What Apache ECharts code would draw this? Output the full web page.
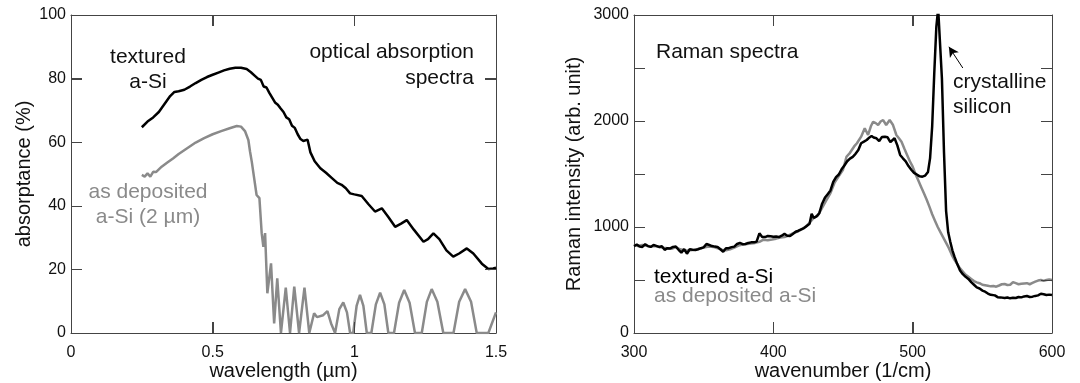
<!DOCTYPE html>
<html>
<head>
<meta charset="utf-8">
<script src="https://cdn.jsdelivr.net/npm/echarts@6/dist/echarts.min.js"></script>
<style>html,body{margin:0;padding:0;background:#fff;}#c{width:1080px;height:383px;}</style>
</head>
<body>
<div id="c"></div>
<script>
// ---- Left panel: optical absorption (absorptance %, vs wavelength µm) ----
const texturedWl  = [0.25,0.27,0.29,0.31,0.33,0.35,0.365,0.38,0.40,0.42,0.44,0.46,0.48,0.50,0.52,0.54,0.56,0.58,0.60,0.62,0.635,0.65,0.66,0.67,0.68,0.69,0.70,0.71,0.72,0.73,0.74,0.75,0.76,0.77,0.78,0.79,0.80,0.81,0.82,0.835,0.845,0.86,0.88,0.90,0.92,0.94,0.955,0.97,0.985,1.00,1.026,1.05,1.073,1.097,1.12,1.144,1.165,1.185,1.21,1.244,1.26,1.279,1.30,1.325,1.349,1.37,1.397,1.42,1.45,1.473,1.49,1.50];
const texturedAbs = [64.7,66.5,67.8,69.5,72,74.5,75.8,76,76.5,77.5,78.6,79.6,80.5,81.2,81.9,82.6,83.1,83.4,83.4,83,82,80.8,80,79.6,77.5,77.2,75.5,74,72.5,71.8,70.6,69.5,67.8,67.2,65.2,64.5,62.5,61,60.4,60.8,56.8,54,51.8,50.4,48.8,47.2,46.6,45.5,43.9,43.6,43.1,40.5,38.2,39.2,36.5,33.4,34.4,35.5,32.5,28.7,29.5,31.3,29.5,26,24,25,26.6,25,21.8,20.1,20.3,20.5];

const depositedWl  = [0.25,0.26,0.27,0.28,0.29,0.30,0.32,0.34,0.36,0.38,0.41,0.44,0.47,0.50,0.53,0.56,0.585,0.60,0.614,0.626,0.632,0.638,0.645,0.655,0.665,0.673,0.679,0.685,0.693,0.706,0.717,0.728,0.741,0.758,0.773,0.788,0.805,0.824,0.841,0.858,0.868,0.875,0.89,0.905,0.918,0.932,0.947,0.961,0.974,0.985,0.996,1.008,1.02,1.032,1.044,1.06,1.076,1.091,1.106,1.12,1.14,1.158,1.176,1.195,1.214,1.238,1.256,1.273,1.293,1.314,1.35,1.37,1.391,1.412,1.432,1.473,1.50];
const depositedAbs = [49.7,49.2,50.2,49.2,50.7,50.6,52.3,53.6,54.9,56.3,58.1,59.9,61.3,62.5,63.5,64.4,65.1,64.9,63.5,60.7,57,53.9,53.5,43.4,42.4,31.4,27.1,31.4,12.5,21.9,3,17.2,0,14.3,0,14.6,0,14.3,0,6.2,5.0,4.6,5.6,6.9,3,0,7.5,9.6,6.5,0,0,8.5,12,8.5,0,0,9,12.7,9,0,0,9.5,13.5,9.5,0,0,9.8,13.8,9.8,0,0,9.8,13.8,9.8,0,0,6.5];

// ---- Right panel: Raman spectra (intensity vs wavenumber 1/cm) ----
const ramanTexturedK = [300,302,304,306,308,310,312,314,316,318,320,322,324,326,328,330,332,334,336,338,340,342,344,346,348,350,352,354,356,358,360,362,364,366,368,370,372,374,376,378,380,382,384,386,388,390,392,394,396,398,400,402,404,406,408,410,412,414,416,418,420,422,424,426,427.5,429,431,433,435,437,439,441,443,445,447,449,451,453,455,457,459,461,463,465,467,469,470.5,472,474,476,478,480,482,484,485,487,489,491,493,495,497,499,501,503,505,507,509,511,512.5,514,515.5,517,518.3,519.5,521,522.5,524,525.5,527,528.5,530,532,534,536,538,540,542,544,546,548,550,552,554,556,557,559,561,563,566,568,570,572,574,576,578,580,582,584,586,588,590,592,594,596,598,600];
const ramanTexturedI = [820,835,815,812,838,820,812,830,822,812,818,785,800,798,812,815,785,758,792,748,790,785,782,790,800,808,840,830,820,815,812,790,767,800,800,810,815,840,850,838,840,850,855,855,862,940,905,905,915,912,908,910,905,918,935,918,915,935,955,965,978,990,1010,1030,1125,1085,1100,1130,1220,1275,1310,1345,1425,1470,1495,1545,1580,1620,1645,1662,1690,1726,1790,1805,1821,1845,1858,1845,1837,1811,1850,1852,1846,1800,1790,1837,1770,1680,1648,1620,1575,1540,1510,1495,1478,1475,1485,1520,1650,1950,2450,2890,3060,3060,2400,1700,1150,950,860,780,720,650,590,555,530,510,480,455,430,420,400,390,372,360,343,355,338,336,330,335,327,332,330,340,336,345,349,340,343,350,355,370,365,358,362,358];

const ramanDepositedK = [300,303,306,309,312,315,318,321,324,327,330,333,336,339,342,345,348,351,354,357,360,363,366,369,372,375,378,381,384,387,390,393,396,399,402,405,408,411,414,417,420,423,426,429,432,435,438,441,444,447,450,452.5,455,458,460,463,465.6,468,470,471.6,473.5,475.2,477,478.8,481,483.5,485.9,488.3,490,492,494,496,498,500,502,504,506,508,510,512,514,516,518,520,522,524,526,528,530,532,534,536,538,540,542,544,546,548,550,552,554,556,558,560,562,564,566,568,570,572,574,576,578,580,582,584,586,588,590,592,594,596,598,600];
const ramanDepositedI = [830,820,830,822,815,820,812,805,800,795,810,790,780,778,782,790,798,810,815,812,800,785,780,790,805,825,835,840,845,850,860,880,875,882,890,900,905,920,940,955,975,1000,1040,1085,1110,1180,1250,1320,1420,1480,1540,1663,1700,1760,1790,1852,1931,1868,1950,1993,1980,1962,1995,2009,1962,2009,1962,1868,1840,1805,1740,1680,1620,1570,1500,1440,1380,1320,1260,1192,1120,1060,1000,950,900,850,800,740,690,650,610,580,550,530,510,490,478,470,455,450,445,440,443,437,448,460,462,453,455,480,470,460,465,468,470,460,472,484,495,500,492,500,505,500];

// tick labels and tick-mark positions
const absLabels = [0, 20, 40, 60, 80, 100];
const absTickMarks = [20, 40, 60, 80];
const wlTickMarks = [0.5, 1];
const ramanLabels = [0, 1000, 2000, 3000];
const ramanTickMarks = [500, 1000, 1500, 2000, 2500];
const wnTickMarks = [400, 500];

const zip = (a, b) => a.map((v, i) => [v, b[i]]);

const FONT = "'Liberation Sans', Arial, Helvetica, sans-serif";
const AX = '#444';
const GRAY = '#8a8a8a';

function xAx(grid, min, max, interval, pos, name) {
  const labeled = pos === 'bottom';
  return {
    gridIndex: grid, type: 'value', min, max, interval, position: pos,
    axisLine: { show: true, onZero: false, lineStyle: { color: AX, width: 1 } },
    axisTick: { show: true, inside: true, length: 11, lineStyle: { color: AX, width: 1 } },
    axisLabel: { show: labeled, color: '#111', fontSize: 16, fontFamily: FONT, margin: 12 },
    splitLine: { show: false },
    name: labeled ? name : '', nameLocation: 'middle', nameGap: 28, nameMoveOverlap: false,
    nameTextStyle: { color: '#111', fontSize: 20, fontFamily: FONT }
  };
}
function yAx(grid, min, max, interval, pos, name, labelSet) {
  const labeled = pos === 'left';
  return {
    gridIndex: grid, type: 'value', min, max, interval, position: pos,
    axisLine: { show: true, onZero: false, lineStyle: { color: AX, width: 1 } },
    axisTick: { show: true, inside: true, length: 11, lineStyle: { color: AX, width: 1 } },
    axisLabel: { show: labeled, color: '#111', fontSize: 16, fontFamily: FONT, margin: 5,
      formatter: v => (labelSet.indexOf(v) >= 0 ? String(v) : '') },
    splitLine: { show: false },
    name: labeled ? name : '', nameLocation: 'middle', nameGap: grid === 0 ? 37 : 50, nameMoveOverlap: false,
    nameTextStyle: { color: '#111', fontSize: 20, fontFamily: FONT }
  };
}

function txt(x, y, text, color, align) {
  return { type: 'text', x, y, z: 10, style: { text, fill: color, font: '21px ' + FONT, textAlign: align || 'left', textVerticalAlign: 'middle' } };
}

const chart = echarts.init(document.getElementById('c'), null, { renderer: 'canvas' });
chart.setOption({
  animation: false,
  backgroundColor: '#fff',
  grid: [
    { left: 71, top: 15, width: 425, height: 318, outerBoundsMode: 'none', containLabel: false },
    { left: 634, top: 15, width: 418, height: 318, outerBoundsMode: 'none', containLabel: false }
  ],
  xAxis: [
    xAx(0, 0, 1.5, 0.5, 'bottom', 'wavelength (µm)'),
    xAx(0, 0, 1.5, 0.5, 'top', ''),
    xAx(1, 300, 600, 100, 'bottom', 'wavenumber (1/cm)'),
    xAx(1, 300, 600, 100, 'top', '')
  ],
  yAxis: [
    yAx(0, 0, 100, 20, 'left', 'absorptance (%)', absLabels),
    yAx(0, 0, 100, 20, 'right', '', absLabels),
    yAx(1, 0, 3000, 500, 'left', 'Raman intensity (arb. unit)', ramanLabels),
    yAx(1, 0, 3000, 500, 'right', '', ramanLabels)
  ],
  series: [
    { type: 'line', xAxisIndex: 0, yAxisIndex: 0, data: zip(depositedWl, depositedAbs), showSymbol: false, clip: true,
      lineStyle: { color: GRAY, width: 2.5 } },
    { type: 'line', xAxisIndex: 0, yAxisIndex: 0, data: zip(texturedWl, texturedAbs), showSymbol: false, clip: true,
      lineStyle: { color: '#000', width: 2.5 } },
    { type: 'line', xAxisIndex: 2, yAxisIndex: 2, data: zip(ramanDepositedK, ramanDepositedI), showSymbol: false, clip: true,
      lineStyle: { color: GRAY, width: 2.5 } },
    { type: 'line', xAxisIndex: 2, yAxisIndex: 2, data: zip(ramanTexturedK, ramanTexturedI), showSymbol: false, clip: true,
      lineStyle: { color: '#000', width: 2.5 },
      markLine: { silent: true, symbol: ['none', 'arrow'], symbolSize: [8, 10], label: { show: false },
        lineStyle: { color: '#000', width: 1, type: 'solid' },
        data: [[{ coord: [536, 2500] }, { coord: [526, 2700] }]] } }
  ]
});

// Inward tick marks on all four sides, positioned through the axes' own scales
const TL = 11;
const ticks = [];
function seg(x1, y1, x2, y2) {
  ticks.push({ type: 'line', z: 5, silent: true,
    shape: { x1, y1, x2, y2 }, style: { stroke: AX, lineWidth: 1 } });
}
function boxTicks(xBottom, yLeft, xMarks, yMarks, xMin, xMax, yMin, yMax) {
  const left = chart.convertToPixel({ xAxisIndex: xBottom }, xMin);
  const right = chart.convertToPixel({ xAxisIndex: xBottom }, xMax);
  const bottom = chart.convertToPixel({ yAxisIndex: yLeft }, yMin);
  const top = chart.convertToPixel({ yAxisIndex: yLeft }, yMax);
  xMarks.forEach(v => {
    const px = Math.round(chart.convertToPixel({ xAxisIndex: xBottom }, v)) + 0.5;
    seg(px, bottom, px, bottom - TL);
    seg(px, top, px, top + TL);
  });
  yMarks.forEach(v => {
    const py = Math.round(chart.convertToPixel({ yAxisIndex: yLeft }, v)) + 0.5;
    seg(left, py, left + TL, py);
    seg(right, py, right - TL, py);
  });
}
boxTicks(0, 0, wlTickMarks, absTickMarks, 0, 1.5, 0, 100);
boxTicks(2, 2, wnTickMarks, ramanTickMarks, 300, 600, 0, 3000);

chart.setOption({
  graphic: ticks.concat([
    txt(148, 57, 'textured', '#111', 'center'),
    txt(148, 82, 'a-Si', '#111', 'center'),
    txt(474, 52, 'optical absorption', '#111', 'right'),
    txt(474, 78, 'spectra', '#111', 'right'),
    txt(148, 192, 'as deposited', GRAY, 'center'),
    txt(148, 217, 'a-Si (2 µm)', GRAY, 'center'),
    txt(656, 52, 'Raman spectra', '#111', 'left'),
    txt(953, 82, 'crystalline', '#111', 'left'),
    txt(953, 107, 'silicon', '#111', 'left'),
    txt(654, 277, 'textured a-Si', '#000', 'left'),
    txt(654, 296, 'as deposited a-Si', GRAY, 'left')
  ])
});
</script>
</body>
</html>
